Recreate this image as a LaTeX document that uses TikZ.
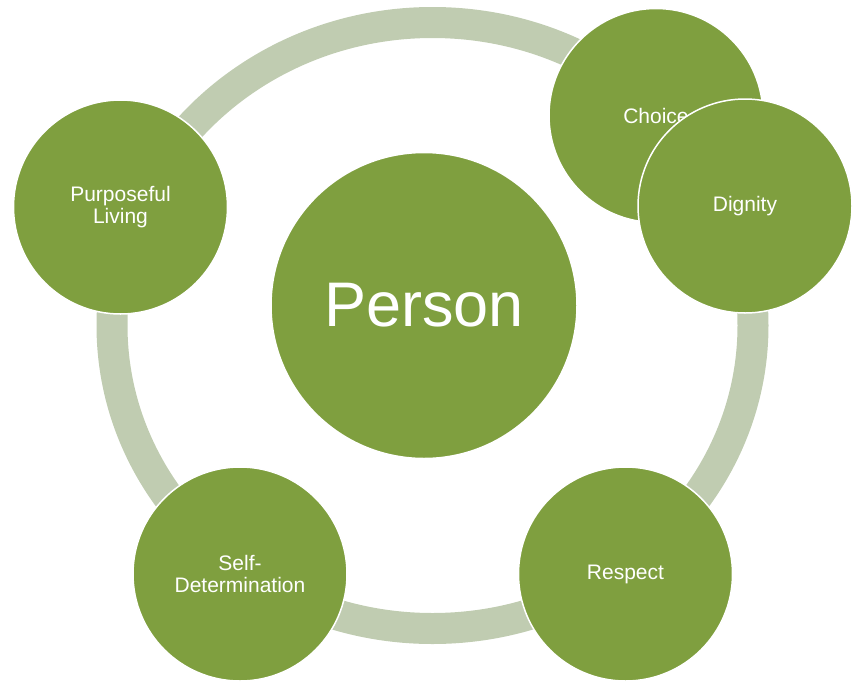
\documentclass[tikz,border=0pt]{standalone}
\usepackage{fontspec}
\setmainfont{Liberation Sans}
\definecolor{leaf}{RGB}{127,159,63}
\definecolor{ringgreen}{RGB}{192,204,177}
\begin{document}
\begin{tikzpicture}[x=1pt,y=-1pt,
        value/.style={circle,fill=leaf,draw=white,line width=1.5pt,inner sep=0pt,
            minimum size=214pt,text=white,align=center,font=\fontsize{21}{22}\selectfont},
        core/.style={value,minimum size=306pt,font=\fontsize{63}{66}\selectfont}]
    \useasboundingbox (0,0) rectangle (855,681);
    \draw[ringgreen,line width=31pt] (432.5,325.5) ellipse [x radius=320.5pt,y radius=303pt];
    \node[core] (person) at (424,305.5) {Person};
    \node[value] (purpose) at (120.5,207) {Purposeful\\Living};
    \node[value] (selfdet) at (240,574) {Self-\\Determination};
    \node[value] (respect) at (625.5,574) {Respect};
    \node[value] (choice) at (656,115.5) {Choice};
    \node[value] (dignity) at (745,206) {Dignity};
\end{tikzpicture}
\end{document}
